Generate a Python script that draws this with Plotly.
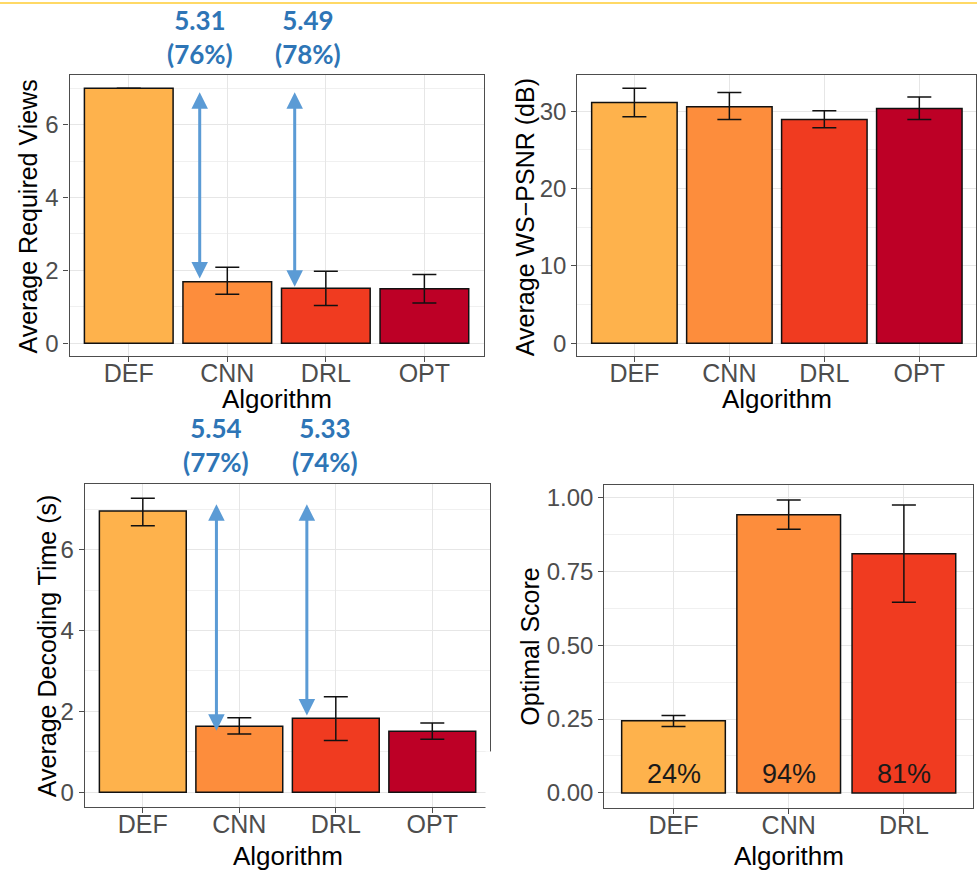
import plotly.graph_objects as go

# ---- data -------------------------------------------------------------
algorithms = ["DEF", "CNN", "DRL", "OPT"]
bar_colors = ["#FEB24C", "#FD8D3C", "#F03B20", "#BD0026"]

views_mean = [7.00, 1.69, 1.51, 1.50]
views_low = [7.00, 1.35, 1.04, 1.11]
views_high = [7.00, 2.09, 1.98, 1.89]

psnr_mean = [31.10, 30.55, 28.92, 30.34]
psnr_low = [29.27, 28.92, 27.85, 28.92]
psnr_high = [32.96, 32.40, 30.04, 31.84]

decode_mean = [6.96, 1.63, 1.83, 1.51]
decode_low = [6.59, 1.44, 1.28, 1.31]
decode_high = [7.27, 1.84, 2.36, 1.71]

score_algorithms = ["DEF", "CNN", "DRL"]
score_mean = [0.244, 0.941, 0.809]
score_low = [0.225, 0.892, 0.645]
score_high = [0.262, 0.991, 0.974]

views_gain_labels = ["5.31<br>(76%)", "5.49<br>(78%)"]
decode_gain_labels = ["5.54<br>(77%)", "5.33<br>(74%)"]

# ---- figure geometry (pixels) -----------------------------------------
W, H = 978, 878


def px_x(a, b):
    return [a / W, b / W]


def px_y(top, bottom):
    return [1 - bottom / H, 1 - top / H]


panels = [
    dict(x=px_x(69.7, 484.0), y=px_y(73.7, 355.3)),
    dict(x=px_x(578.0, 977.3), y=px_y(73.7, 355.3)),
    dict(x=px_x(85.0, 490.7), y=px_y(483.3, 807.7)),
    dict(x=px_x(605.0, 974.0), y=px_y(485.0, 808.3)),
]

GRID = "#E6E6E6"
MINOR = "#F0F0F0"
FRAME = "#4D4D4D"
TICKTXT = "#4D4D4D"
FONT = "Arial, Liberation Sans, Helvetica, sans-serif"

fig = go.Figure()


def padded_range(lo_vals, hi_vals):
    lo = min(0, min(lo_vals))
    hi = max(hi_vals)
    span = hi - lo
    return [lo - 0.05 * span, hi + 0.05 * span]


def add_panel(idx, cats, mean, low, high, dtick, fmt):
    n = len(cats)
    suffix = "" if idx == 1 else str(idx)
    xa, ya = "x" + suffix, "y" + suffix
    up = [None if h == m else h - m for h, m in zip(high, mean)]
    down = [None if l == m else m - l for m, l in zip(mean, low)]
    fig.add_trace(go.Bar(
        x=cats, y=mean, width=0.9,
        marker=dict(color=bar_colors[:n], line=dict(color="#111111", width=1.5)),
        error_y=dict(
            type="data", symmetric=False, array=up, arrayminus=down,
            color="#111111", thickness=1.5, width=12,
        ),
        xaxis=xa, yaxis=ya, hoverinfo="skip",
    ))
    p = panels[idx - 1]
    axis_common = dict(
        showline=True, mirror=True, linecolor=FRAME, linewidth=1.3,
        ticks="outside", ticklen=5, tickcolor=FRAME, tickwidth=1.2,
        gridcolor=GRID, gridwidth=1.2, zeroline=False,
    )
    fig.layout["xaxis" + suffix] = dict(
        axis_common, domain=p["x"], anchor=ya,
        tickfont=dict(family=FONT, size=25, color=TICKTXT),
        type="category", range=[-0.6, n - 0.4], ticklabelstandoff=-10,
    )
    fig.layout["yaxis" + suffix] = dict(
        axis_common, domain=p["y"], anchor=xa,
        tickfont=dict(family=FONT, size=24, color=TICKTXT),
        range=padded_range(low, high), dtick=dtick, tickformat=fmt,
        minor=dict(dtick=dtick / 2, showgrid=True, gridcolor=MINOR, gridwidth=1, ticks=""),
    )


add_panel(1, algorithms, views_mean, views_low, views_high, 2, "d")
add_panel(2, algorithms, psnr_mean, psnr_low, psnr_high, 10, "d")
add_panel(3, algorithms, decode_mean, decode_low, decode_high, 2, "d")
add_panel(4, score_algorithms, score_mean, score_low, score_high, 0.25, ".2f")

annotations = []
ARROW = "#5B9BD5"
LABEL = "#2E75B6"


def gain_arrows(xa, ya, mean, labels, arrow_shift, text_shift, top_pad, bottom_pad, text_y):
    for k, i in enumerate([1, 2]):
        xpos = i + arrow_shift[k]
        annotations.append(dict(
            x=xpos, y=mean[i] + bottom_pad[k], ax=xpos, ay=mean[0] + top_pad,
            xref=xa, yref=ya, axref=xa, ayref=ya, text="",
            showarrow=True, arrowside="end+start",
            arrowhead=2, startarrowhead=2, arrowsize=1.1, startarrowsize=1.1,
            arrowwidth=3, arrowcolor=ARROW, standoff=0, startstandoff=0,
        ))
        annotations.append(dict(
            x=xpos + text_shift[k], y=text_y, xref=xa, yref="paper",
            text="<b>" + labels[k] + "</b>", showarrow=False,
            font=dict(family="Lato", size=26, color=LABEL),
            xanchor="center", yanchor="middle", align="center",
        ))


gain_arrows("x", "y", views_mean, views_gain_labels, [-0.28, -0.316], [0.0, 0.13],
            -0.07, [0.09, 0.04], 1 - 34.7 / H)
gain_arrows("x3", "y3", decode_mean, decode_gain_labels, [-0.237, -0.30], [0.0, 0.187],
            0.20, [-0.11, 0.07], 1 - 444.8 / H)

# percentage labels inside the score bars
for cat, v in zip(score_algorithms, score_mean):
    annotations.append(dict(
        x=cat, y=0.065, xref="x4", yref="y4", text=f"{round(v * 100)}%",
        showarrow=False, font=dict(family=FONT, size=27, color="#1A1A1A"),
        xanchor="center", yanchor="middle",
    ))

# axis titles
titles = [
    ("Average Required Views", 28.0, 215.3, 276.9, 398.0),
    ("Average WS\u2212PSNR (dB)", 525.7, 215.7, 777.7, 398.0),
    ("Average Decoding Time (s)", 47.7, 646.7, 287.8, 856.7),
    ("Optimal Score", 530.7, 646.7, 789.5, 856.7),
]
for ytitle, yx, yy, xx, xy in titles:
    annotations.append(dict(
        x=yx / W, y=1 - yy / H, xref="paper", yref="paper", text=ytitle,
        textangle=-90, showarrow=False,
        font=dict(family=FONT, size=25, color="#000000"),
        xanchor="center", yanchor="middle",
    ))
    annotations.append(dict(
        x=xx / W, y=1 - xy / H, xref="paper", yref="paper", text="Algorithm",
        showarrow=False, font=dict(family=FONT, size=26, color="#000000"),
        xanchor="center", yanchor="middle",
    ))

shapes = [
    # thin accent strip along the top edge
    dict(type="rect", xref="paper", yref="paper", x0=0, x1=1, y0=1 - 2 / H, y1=1,
         fillcolor="#FFD966", line=dict(width=0), layer="above"),
    # the lower right panel overlaps the frame edge of its neighbour
    dict(type="rect", xref="paper", yref="paper", x0=486 / W, x1=496 / W,
         y0=1 - 812 / H, y1=1 - 752 / H, fillcolor="white", line=dict(width=0), layer="above"),
]

fig.update_layout(
    width=W, height=H, margin=dict(l=0, r=0, t=0, b=0),
    paper_bgcolor="white", plot_bgcolor="white",
    showlegend=False, bargap=0.1,
    font=dict(family=FONT),
    annotations=annotations, shapes=shapes,
)

fig.write_html("out.html")
